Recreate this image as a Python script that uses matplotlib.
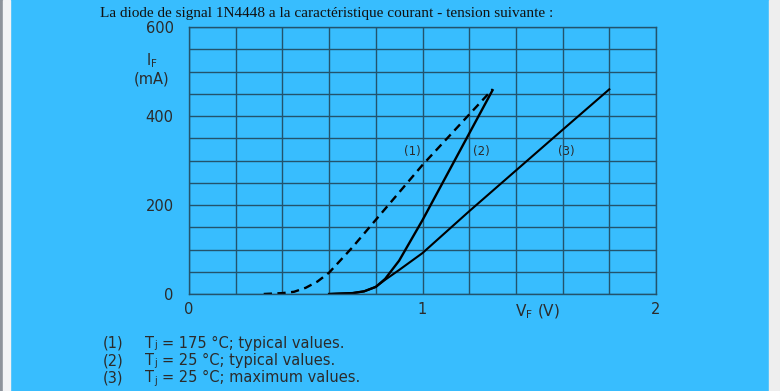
import numpy as np
import matplotlib.pyplot as plt
from matplotlib.patches import Rectangle

# forward characteristic of 1N4448 (VF in volts, IF in mA)
vf_1 = [0.32, 0.40, 0.45, 0.50, 0.55, 0.60, 0.70, 1.00, 1.30]
if_1 = [0, 2, 5, 14, 28, 48, 105, 290, 460]

vf_2 = [0.60, 0.70, 0.75, 0.80, 0.84, 0.90, 1.00, 1.30]
if_2 = [0, 2, 6, 16, 34, 75, 166, 458]

vf_3 = [0.60, 0.70, 0.75, 0.80, 0.84, 0.90, 1.00, 1.20, 1.60, 1.80]
if_3 = [0, 2, 6, 16, 32, 54, 92, 186, 369, 460]

curve_names = ['(1)', '(2)', '(3)']
curve_label_pos = [(0.955, 321), (1.25, 321), (1.614, 321)]
legend_tail = ['= 175 °C; typical values.',
               '= 25 °C; typical values.',
               '= 25 °C; maximum values.']

x_grid = np.arange(0, 2.01, 0.2)
y_grid = np.arange(0, 601, 50)
x_labels = {0: '0', 5: '1', 10: '2'}
y_labels = {0: '0', 4: '200', 8: '400', 12: '600'}

bg = '#38bdfe'
grid_c = '#23536c'
txt_c = '#2b2b2b'

fig = plt.figure(figsize=(7.8, 3.91), dpi=100)
fig.patch.set_facecolor(bg)
# page edges of the screenshot
fig.patches.append(Rectangle((0, 0), 3 / 780, 1, transform=fig.transFigure, color='#8d939b', zorder=-1))
fig.patches.append(Rectangle((3 / 780, 0), 7 / 780, 1, transform=fig.transFigure, color='#f2f3f5', zorder=-1))
fig.patches.append(Rectangle((769 / 780, 0), 11 / 780, 1, transform=fig.transFigure, color='#eeeeee', zorder=-1))

ax = fig.add_axes([189 / 780, 97 / 391, 467 / 780, 267 / 391])
ax.set_facecolor(bg)
ax.set_xlim(0, 2)
ax.set_ylim(0, 600)

ax.set_xticks(x_grid)
ax.set_xticklabels([x_labels.get(i, '') for i in range(len(x_grid))])
ax.set_yticks(y_grid)
ax.set_yticklabels([y_labels.get(i, '') for i in range(len(y_grid))])
ax.tick_params(length=0, colors=txt_c, labelsize=10.5)
ax.tick_params(axis='x', pad=6)
ax.tick_params(axis='y', pad=11)
ax.grid(True, color=grid_c, lw=1.0)
for s in ax.spines.values():
    s.set_color(grid_c)
    s.set_linewidth(1.0)

ax.plot(vf_1, if_1, color='black', lw=1.7, linestyle=(0, (3.5, 2.3)))
ax.plot(vf_2, if_2, color='black', lw=1.7)
ax.plot(vf_3, if_3, color='black', lw=1.5)

for name, (xv, yv) in zip(curve_names, curve_label_pos):
    ax.text(xv, yv, name, fontsize=8.5, color=txt_c, ha='center', va='center')

fig.text(327 / 780, 1 - 14 / 391, 'La diode de signal 1N4448 a la caractéristique courant - tension suivante :',
         family='Liberation Serif', fontsize=11.0, color='#111111', ha='center', va='center')

fig.text(152 / 780, 1 - 61 / 391, 'I$_\\mathregular{F}$', fontsize=10.5, color=txt_c, ha='center', va='center')
fig.text(152 / 780, 1 - 79 / 391, '(mA)', fontsize=10.5, color=txt_c, ha='center', va='center')
fig.text(537 / 780, 1 - 312 / 391, 'V$_\\mathregular{F}$ (V)', fontsize=11, color=txt_c, ha='center', va='center')

for i, tail in enumerate(legend_tail):
    yy = 343 + i * 17.5
    fig.text(103 / 780, 1 - yy / 391, '(%d)' % (i + 1), fontsize=10.5, color=txt_c, ha='left', va='center')
    fig.text(145 / 780, 1 - yy / 391, 'T', fontsize=10.5, color=txt_c, ha='left', va='center')
    fig.text(154 / 780, 1 - (yy + 2.5) / 391, 'j', fontsize=7, color=txt_c, ha='left', va='center')
    fig.text(162 / 780, 1 - yy / 391, tail, fontsize=10.5, color=txt_c, ha='left', va='center')

fig.savefig('out.png', dpi=100, facecolor=fig.get_facecolor())
